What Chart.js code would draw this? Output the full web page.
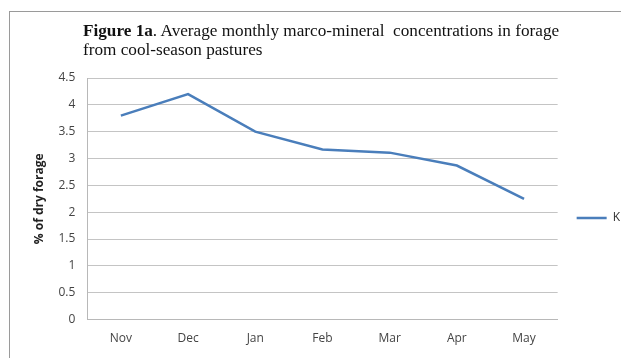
<!DOCTYPE html>
<html>
<head>
<meta charset="utf-8">
<script src="https://cdn.jsdelivr.net/npm/chart.js@4"></script>
<style>
  body { margin: 0; background: #fff; }
  #wrap { position: relative; width: 621px; height: 358px; overflow: hidden; }
  #frame { position: absolute; left: 9px; top: 11px; width: 700px; height: 400px; border: 1px solid #9a9a9a; box-sizing: border-box; }
  #title { position: absolute; left: 83px; top: 21px; width: 500px; font-family: "Liberation Serif", serif; font-size: 17.2px; line-height: 19px; color: #111; }
  #title b { font-weight: bold; }
  canvas { position: absolute; left: 0; top: 0; }
</style>
</head>
<body>
<div id="wrap">
  <div id="frame"></div>
  <canvas id="chart" width="621" height="358"></canvas>
  <div id="title"><b>Figure 1a</b>. Average monthly marco-mineral&nbsp; concentrations in forage<br>from cool-season pastures</div>
</div>
<script>
//Data
let months = ['Nov', 'Dec', 'Jan', 'Feb', 'Mar', 'Apr', 'May'];
let kValues = [3.8, 4.2, 3.5, 3.17, 3.11, 2.87, 2.25];
let seriesName = 'K';
let yTitle = '% of dry forage';

let tickFont = { family: 'Open Sans', size: 12 };

let chart = new Chart(document.getElementById('chart').getContext('2d'), {
    type: 'line',
    data: {
        labels: months,
        datasets: [{
            label: seriesName,
            data: kValues,
            borderColor: '#4a7ebb',
            backgroundColor: '#4a7ebb',
            borderWidth: 2.5,
            pointRadius: 0,
            tension: 0
        }]
    },
    options: {
        responsive: false,
        animation: false,
        layout: { padding: { top: 78, left: 28, bottom: 0, right: -9 } },
        plugins: {
            legend: {
                position: 'right',
                labels: {
                    usePointStyle: true,
                    pointStyle: 'line',
                    pointStyleWidth: 30,
                    boxWidth: 30,
                    padding: 19,
                    color: '#333',
                    font: tickFont
                }
            },
            tooltip: { enabled: false }
        },
        scales: {
            x: {
                offset: true,
                grid: { display: false, drawTicks: false },
                border: { color: '#b8b8b8' },
                ticks: { color: '#444', font: tickFont, padding: 12 }
            },
            y: {
                min: 0,
                max: 4.5,
                ticks: {
                    stepSize: 0.5,
                    color: '#444',
                    font: tickFont,
                    padding: 12,
                    callback: (v) => String(v)
                },
                grid: { color: '#c4c4c4', drawTicks: false },
                border: { color: '#b8b8b8' },
                title: {
                    display: true,
                    text: yTitle,
                    color: '#222',
                    font: { family: 'Open Sans', size: 12, weight: 'bold' },
                    padding: { top: 4, bottom: 0 }
                }
            }
        }
    }
});
</script>
</body>
</html>
